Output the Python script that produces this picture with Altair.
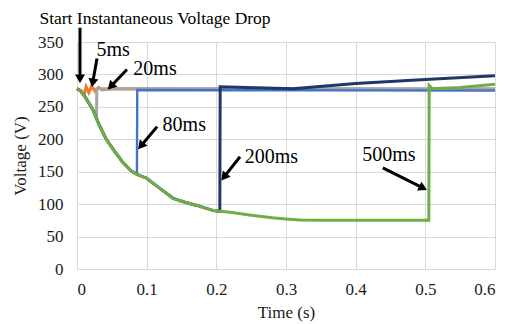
import math
import altair as alt
import pandas as pd

# ---------------- data ----------------
series_names = ["5ms", "20ms", "80ms", "200ms", "500ms"]
series_colors = ["#ED7D31", "#A5A5A5", "#4472C4", "#1F3864", "#70AD47"]

# common voltage collapse after the drop starts
decline_t = [0, 0.005, 0.012, 0.023, 0.032, 0.042, 0.055, 0.066, 0.078, 0.086,
             0.1, 0.118, 0.138, 0.155, 0.172, 0.196, 0.205, 0.22, 0.25, 0.28,
             0.3, 0.32, 0.35, 0.4, 0.45, 0.5, 0.505]
decline_v = [278, 275, 265, 245, 222, 200, 180, 164, 151, 146,
             140, 125, 109, 103, 98, 90, 89, 87.5, 83, 79,
             77, 75.5, 75, 75, 75, 75, 75]

# cut-off time of each series (end of drop) and its recovery trace
cutoff = {"5ms": 0.005, "20ms": 0.023, "80ms": 0.086, "200ms": 0.205, "500ms": 0.505}
tail_t = {
    "5ms": [0.01, 0.013, 0.017, 0.021, 0.026, 0.031, 0.036, 0.045, 0.6],
    "20ms": [0.028, 0.0285, 0.6],
    "80ms": [0.0865, 0.6],
    "200ms": [0.2055, 0.31, 0.4, 0.5, 0.6],
    "500ms": [0.5055, 0.51, 0.55, 0.6],
}
tail_v = {
    "5ms": [268, 281, 272, 282, 274, 280, 276, 278, 277],
    "20ms": [238, 278, 278],
    "80ms": [276, 275],
    "200ms": [281, 278, 286, 292, 298],
    "500ms": [283, 278, 280, 285],
}

# annotations: label text, label position, arrow start, arrow tip
ann_text = ["Start Instantaneous Voltage Drop", "5ms", "20ms", "80ms", "200ms", "500ms"]
ann_t = [0.112, 0.052, 0.112, 0.154, 0.279, 0.4476]
ann_v = [386, 337, 309, 222.5, 172, 176]
ann_size = [17.5, 20, 20, 20, 20, 20]
arrow_t0 = [0.0043, 0.0287, 0.0717, 0.115, 0.234, 0.439]
arrow_v0 = [372, 324.5, 307.5, 219.5, 173, 156]
arrow_t1 = [0.0043, 0.0215, 0.0445, 0.088, 0.2075, 0.502]
arrow_v1 = [287, 281, 277, 185, 137, 122]

x_ticks = [0, 0.1, 0.2, 0.3, 0.4, 0.5, 0.6]
y_ticks = [0, 50, 100, 150, 200, 250, 300, 350]

# ---------------- layout ----------------
W, H = 418, 227
PX_T = W / 0.6     # pixels per second
PX_V = H / 350     # pixels per volt
FONT = "Liberation Serif"

x_scale = alt.Scale(domain=[0, 0.6], nice=False)
y_scale = alt.Scale(domain=[0, 350], nice=False)

axis_style = dict(labelFont=FONT, titleFont=FONT, labelFontSize=17, titleFontSize=17,
                  titleFontWeight="normal", labelColor="#1a1a1a", titleColor="#1a1a1a",
                  grid=True, gridColor="#d9d9d9", gridWidth=1, domainColor="#d9d9d9",
                  ticks=False)
x_axis = alt.Axis(values=x_ticks, format="~g", title="Time (s)", labelPadding=12,
                  titlePadding=7, **axis_style)
y_axis = alt.Axis(values=y_ticks, title="Voltage (V)", labelPadding=14,
                  titlePadding=8, **axis_style)


def X(field):
    return alt.X(field, scale=x_scale, axis=x_axis, title="Time (s)")


def Y(field):
    return alt.Y(field, scale=y_scale, axis=y_axis, title="Voltage (V)")


layers = []
for name, color in zip(series_names, series_colors):
    ts, vs = [], []
    for t, v in zip(decline_t, decline_v):
        if t <= cutoff[name] + 1e-9:
            ts.append(t)
            vs.append(v)
    ts += tail_t[name]
    vs += tail_v[name]
    df = pd.DataFrame({"t": ts, "v": vs, "i": range(len(ts))})
    layers.append(
        alt.Chart(df).mark_line(color=color,
                                strokeWidth=2.4 if name == "80ms" else 3,
                                clip=False)
        .encode(x=X("t:Q"), y=Y("v:Q"), order="i:Q")
    )

# arrows
rows = []
for a0, b0, a1, b1 in zip(arrow_t0, arrow_v0, arrow_t1, arrow_v1):
    dx = (a1 - a0) * PX_T
    dy = -(b1 - b0) * PX_V
    L = math.hypot(dx, dy)
    ux, uy = dx / L, dy / L
    ang = math.degrees(math.atan2(dx, -dy)) % 360
    ht = a1 - ux * 4.0 / PX_T
    hv = b1 + uy * 4.0 / PX_V
    lt = a1 - ux * 6 / PX_T
    lv = b1 + uy * 6 / PX_V
    rows.append({"t": a0, "v": b0, "t1": lt, "v1": lv, "ht": ht, "hv": hv, "ang": ang})
arr = pd.DataFrame(rows)

rules = alt.Chart(arr).mark_rule(color="black", strokeWidth=3, clip=False).encode(
    x=X("t:Q"), y=Y("v:Q"), x2="t1:Q", y2="v1:Q",
)
heads = alt.Chart(arr).mark_point(shape="triangle-up", filled=True, color="black",
                                  opacity=1, size=100, clip=False).encode(
    x=X("ht:Q"), y=Y("hv:Q"),
    angle=alt.Angle("ang:Q", scale=None),
)

ann = pd.DataFrame({"text": ann_text, "t": ann_t, "v": ann_v, "s": ann_size})
texts = alt.Chart(ann).mark_text(font=FONT, color="black", align="center",
                                 baseline="middle", clip=False).encode(
    x=X("t:Q"), y=Y("v:Q"),
    text="text:N", size=alt.Size("s:Q", scale=None),
)

chart = alt.layer(*layers, rules, heads, texts).properties(
    width=W, height=H,
    autosize=alt.AutoSizeParams(type="none"),
    padding={"left": 69, "top": 34, "right": 6, "bottom": 55},
).configure_view(strokeWidth=0)

chart.save("out.html", embed_options={"renderer": "svg", "actions": False})
